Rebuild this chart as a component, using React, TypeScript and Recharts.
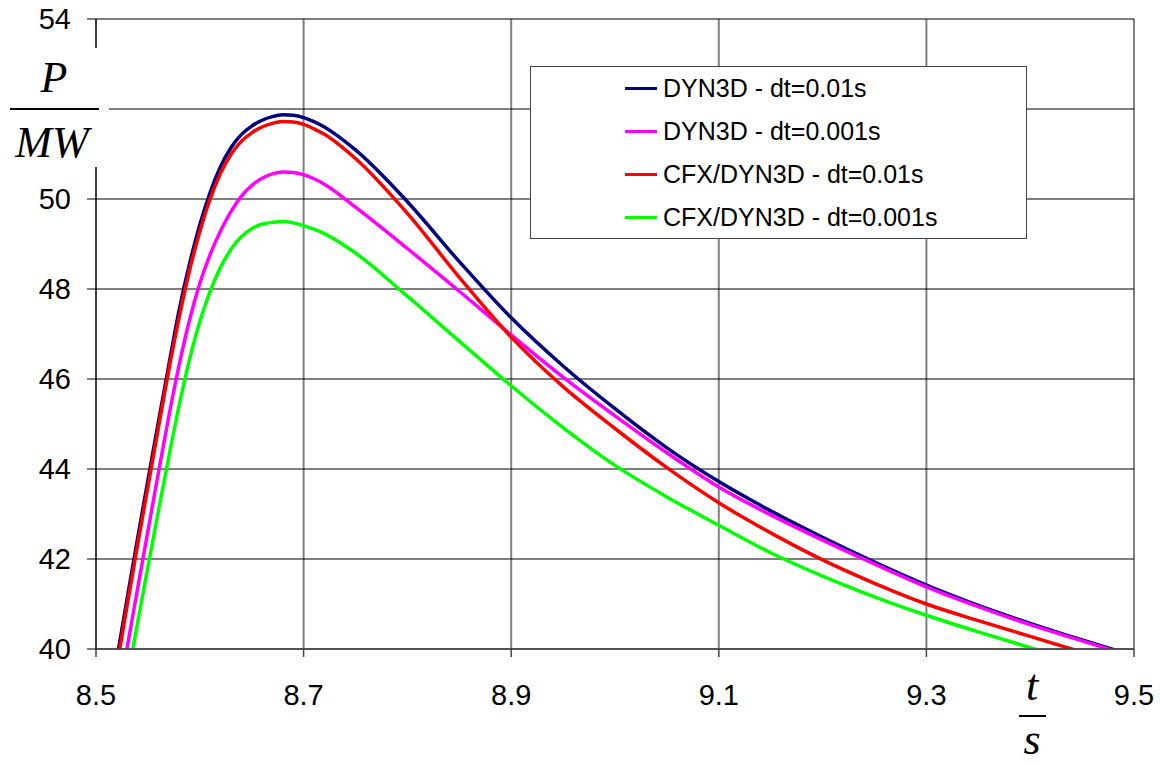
import * as React from "react"
import {
  LineChart,
  Line,
  XAxis,
  YAxis,
  CartesianGrid,
  Legend,
  Label,
} from "recharts"

// time axis (s)
const time = [
  8.51, 8.52, 8.53, 8.54, 8.55, 8.56, 8.57, 8.58, 8.59, 8.6, 8.61, 8.62, 8.63,
  8.64, 8.65, 8.66, 8.67, 8.68, 8.69, 8.7, 8.71, 8.72, 8.75, 8.8, 8.85, 8.9,
  8.95, 9.0, 9.05, 9.1, 9.15, 9.2, 9.25, 9.3, 9.35, 9.4, 9.45, 9.5,
]

// power (MW)
const dyn3dCoarse = [
  38.4, 39.77, 41.12, 42.45, 43.75, 45.03, 46.29, 47.52, 48.55, 49.43, 50.15,
  50.72, 51.14, 51.43, 51.62, 51.75, 51.83, 51.87, 51.86, 51.81, 51.72, 51.6,
  51.09, 49.94, 48.61, 47.36, 46.29, 45.34, 44.47, 43.72, 43.07, 42.48, 41.93,
  41.42, 40.97, 40.57, 40.2, 39.85,
]
const dyn3dFine = [
  37.4, 38.72, 40.03, 41.33, 42.62, 43.9, 45.15, 46.3, 47.3, 48.12, 48.77,
  49.29, 49.72, 50.06, 50.3, 50.46, 50.56, 50.6, 50.59, 50.54, 50.45, 50.33,
  49.82, 48.9, 47.95, 46.98, 46.04, 45.18, 44.36, 43.6, 42.98, 42.42, 41.89,
  41.38, 40.94, 40.54, 40.18, 39.83,
]
const cfxCoarse = [
  38.2, 39.6, 40.97, 42.3, 43.6, 44.9, 46.18, 47.35, 48.4, 49.27, 50.0, 50.57,
  50.99, 51.28, 51.47, 51.6, 51.68, 51.72, 51.71, 51.66, 51.56, 51.44, 50.9,
  49.68, 48.26, 46.93, 45.83, 44.9, 44.03, 43.25, 42.58, 41.98, 41.46, 41.0,
  40.63, 40.28, 39.93, 39.58,
]
const cfxFine = [
  36.8, 38.07, 39.32, 40.57, 41.82, 43.05, 44.25, 45.4, 46.42, 47.27, 47.95,
  48.48, 48.88, 49.16, 49.34, 49.44, 49.48, 49.5, 49.47, 49.41, 49.33, 49.23,
  48.8, 47.84, 46.84, 45.85, 44.92, 44.08, 43.38, 42.75, 42.14, 41.62, 41.16,
  40.75, 40.38, 40.03, 39.69, 39.36,
]

const seriesNames = [
  "DYN3D - dt=0.01s",
  "DYN3D - dt=0.001s",
  "CFX/DYN3D - dt=0.01s",
  "CFX/DYN3D - dt=0.001s",
]
const xTicks = [8.5, 8.7, 8.9, 9.1, 9.3, 9.5]
const yTicks = [40, 42, 44, 46, 48, 50, 52, 54]

const data = time.map((t, i) => ({
  t,
  a: dyn3dCoarse[i],
  b: dyn3dFine[i],
  c: cfxCoarse[i],
  d: cfxFine[i],
}))

const sans = "'Liberation Sans', Arial, Helvetica, sans-serif"
const serif = "'Liberation Serif', 'Times New Roman', serif"

// P / MW fraction, also blanks the axis + 52 gridline behind it
function PowerLabel() {
  return (
    <g>
      <rect x={0} y={48} width={109} height={119} fill="#fff" />
      <text x={54} y={92} textAnchor="middle" fontFamily={serif} fontStyle="italic" fontSize={44} fill="#000">
        P
      </text>
      <line x1={10} x2={99} y1={109} y2={109} stroke="#000" strokeWidth={2} />
      <text x={52} y={157} textAnchor="middle" fontFamily={serif} fontStyle="italic" fontSize={44} fill="#000">
        MW
      </text>
    </g>
  )
}

function TimeLabel() {
  return (
    <g>
      <text x={1032} y={700} textAnchor="middle" fontFamily={serif} fontStyle="italic" fontSize={44} fill="#000">
        t
      </text>
      <line x1={1019} x2={1046} y1={716} y2={716} stroke="#000" strokeWidth={2} />
      <text x={1032} y={754} textAnchor="middle" fontFamily={serif} fontStyle="italic" fontSize={44} fill="#000">
        s
      </text>
    </g>
  )
}

function LegendBox(props: any) {
  const payload = [...(props.payload || [])].sort(
    (p: any, q: any) => seriesNames.indexOf(p.value) - seriesNames.indexOf(q.value)
  )
  return (
    <div
      style={{
        width: 497,
        height: 173,
        boxSizing: "border-box",
        border: "1.5px solid #444",
        background: "#fff",
        fontFamily: sans,
      }}
    >
      {payload.map((entry: any) => (
        <div
          key={entry.value}
          style={{ display: "flex", alignItems: "center", height: 43, paddingLeft: 94 }}
        >
          <span style={{ display: "inline-block", width: 32, height: 3.5, background: entry.color, marginRight: 6 }} />
          <span style={{ fontSize: 25, color: "#000", whiteSpace: "nowrap" }}>{entry.value}</span>
        </div>
      ))}
    </div>
  )
}

export default function App() {
  return (
    <div style={{ position: "absolute", left: 0, top: 0, width: 1160, height: 765, background: "#fff", fontFamily: sans }}>
      <LineChart width={1160} height={765} data={data} margin={{ top: 19, right: 26, bottom: 0, left: 0 }}>
        <CartesianGrid horizontal={false} stroke="#808080" strokeWidth={2} />
        <CartesianGrid vertical={false} stroke="#000" strokeWidth={1} />
        <XAxis
          dataKey="t"
          type="number"
          domain={[8.5, 9.5]}
          ticks={xTicks}
          allowDataOverflow
          height={116}
          tickSize={8}
          tickMargin={27}
          stroke="#444"
          strokeWidth={1.5}
          tick={{ fontSize: 29, fill: "#000", fontFamily: sans }}
        >
          <Label content={<TimeLabel />} />
        </XAxis>
        <YAxis
          type="number"
          domain={[40, 54]}
          ticks={yTicks}
          allowDataOverflow
          width={96}
          tickSize={9}
          tickMargin={16}
          stroke="#000"
          tickFormatter={(v: number) => (v === 52 ? "" : String(v))}
          tick={{ fontSize: 29, fill: "#000", fontFamily: sans }}
        >
          <Label content={<PowerLabel />} />
        </YAxis>
        <Legend
          layout="vertical"
          align="center"
          verticalAlign="middle"
          content={<LegendBox />}
          wrapperStyle={{ left: 530, top: 66, width: 497, height: 173 }}
        />
        <Line name={seriesNames[0]} dataKey="a" type="monotone" stroke="#000080" strokeWidth={3.5} dot={false} isAnimationActive={false} />
        <Line name={seriesNames[1]} dataKey="b" type="monotone" stroke="#ff00ff" strokeWidth={3.5} dot={false} isAnimationActive={false} />
        <Line name={seriesNames[2]} dataKey="c" type="monotone" stroke="#ff0000" strokeWidth={3.5} dot={false} isAnimationActive={false} />
        <Line name={seriesNames[3]} dataKey="d" type="monotone" stroke="#00ff00" strokeWidth={3.5} dot={false} isAnimationActive={false} />
      </LineChart>
    </div>
  )
}
